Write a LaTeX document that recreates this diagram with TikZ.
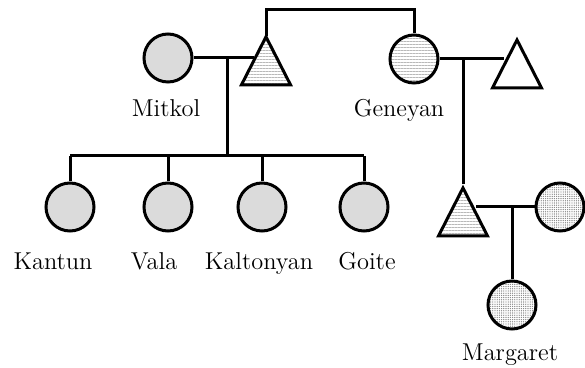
\documentclass[tikz,border=0pt]{standalone}
\usepackage{tikz}
\usetikzlibrary{shapes.geometric, patterns.meta}

\definecolor{kin}{gray}{0.86}
\tikzset{
  female/.style={circle, draw, line width=1.5pt, minimum size=24pt, inner sep=0pt},
  male/.style={isosceles triangle, isosceles triangle stretches, shape border rotate=90,
    draw, line width=1.5pt, minimum width=24.5pt, minimum height=24pt, inner sep=0pt,
    anchor=apex},
  lined/.style={pattern={Lines[angle=0, distance=1.5pt, line width=0.3pt]}, pattern color=gray!55},
  dotted fill/.style={pattern={Dots[distance=1.1pt, radius=0.33pt]}, pattern color=gray},
  plabel/.style={anchor=base, font=\fontsize{12.2}{14}\selectfont},
}

\begin{document}
\begin{tikzpicture}[x=0.5pt, y=-0.5pt, line width=1.5pt]
  \useasboundingbox (0,0) rectangle (585,368);

  % first generation (triangles are placed by their apex)
  \node[female, fill=kin] (mitkol) at (168,58) {};
  \node[male, lined] (husband) at (266,36) {};
  \node[female, lined] (geneyan) at (414,59) {};
  \node[male, fill=white] (ghusband) at (517,36) {};
  \node[plabel] (mitkol-lbl) at (166,117) {Mitkol};
  \node[plabel] (geneyan-lbl) at (399,117) {Geneyan};

  \coordinate (top) at (340,10);
  \draw (husband.apex) |- (top) -| (geneyan.north);
  \draw (mitkol) -- (mitkol -| husband.left side);
  \draw (geneyan) -- (geneyan -| ghusband.left side);

  % Mitkol's children
  \coordinate (m1) at (227,58);
  \coordinate (bar) at (227,156);
  \draw (m1) -- (bar);
  \foreach \name/\x/\lx/\txt in {
    kantun/70/53/Kantun,
    vala/168/154/Vala,
    kaltonyan/262/259/Kaltonyan,
    goite/364/367/Goite
  }{
    \node[female, fill=kin] (\name) at (\x,207) {};
    \node[plabel] (\name-lbl) at (\lx,270) {\txt};
    \draw (\name) -- (\name |- bar);
  }
  \draw (kantun |- bar) -- (goite |- bar);

  % Geneyan's son and his family
  \node[male, lined] (son) at (463,184) {};
  \node[female, dotted fill] (sonwife) at (560,207) {};
  \coordinate (m2) at (463,59);
  \draw (m2) -- (son.apex);
  \draw (son.right side |- sonwife) -- (sonwife);

  \coordinate (m3) at (512,207);
  \node[female, dotted fill] (margaret) at (512,305) {};
  \node[plabel] (margaret-lbl) at (510,361) {Margaret};
  \draw (m3) -- (margaret);
\end{tikzpicture}
\end{document}
